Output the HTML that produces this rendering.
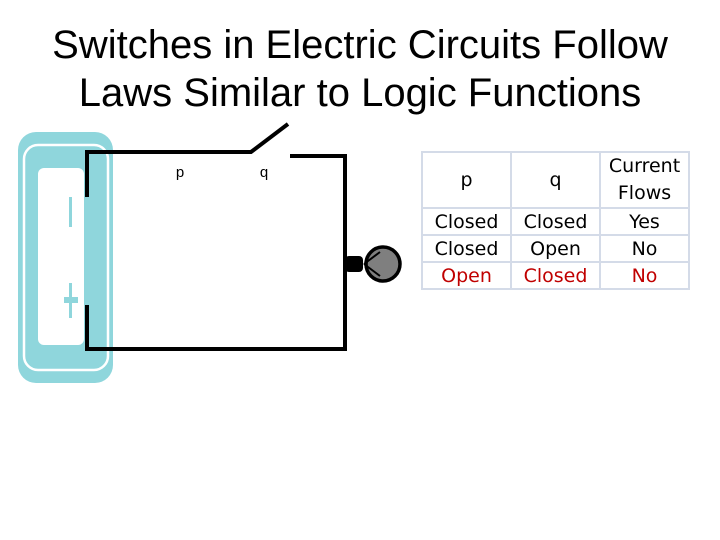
<!DOCTYPE html>
<html><head><style>
body{margin:0;width:720px;height:540px;background:#fff;position:relative;overflow:hidden;font-family:"Liberation Sans",sans-serif}
.t{position:absolute;left:0;width:720px;text-align:center;font-size:40px;line-height:48px;top:21px;color:#000}
table{position:absolute;left:421px;top:151px;border-collapse:collapse;font-size:19px;font-family:"DejaVu Sans","Liberation Sans",sans-serif}
td{border:2px solid #d4dbe8;width:87px;text-align:center;padding:0;height:25px}
.r td{color:#c00000}
</style></head><body>
<div class="t">Switches in Electric Circuits Follow<br>Laws Similar to Logic Functions</div>
<svg width="720" height="540" style="position:absolute;left:0;top:0">
<rect x="18" y="132" width="95" height="251" rx="18" fill="#8fd6dc"/>
<rect x="24" y="145" width="84" height="225" rx="14" fill="none" stroke="#fff" stroke-width="2.5"/>
<rect x="38" y="168" width="46" height="177" rx="6" fill="#fff"/>
<rect x="69" y="197" width="3" height="30" fill="#8fd6dc"/>
<rect x="69" y="283" width="3" height="35" fill="#8fd6dc"/>
<rect x="64" y="297" width="14" height="6" fill="#8fd6dc"/>
<g stroke="#000" stroke-width="4" fill="none">
<polyline points="87,197 87,152 251,152 288,124"/>
<polyline points="290,156 345,156 345,349 87,349 87,305"/>
</g>
<rect x="345" y="256" width="18" height="16" rx="4" fill="#000"/>
<circle cx="383" cy="264" r="17" fill="#7f7f7f" stroke="#000" stroke-width="3.5"/>
<path d="M364,264 L380,252 M364,264 L380,276" stroke="#000" stroke-width="2"/>
<text x="180" y="177" font-size="15" text-anchor="middle" font-family="Liberation Sans">p</text>
<text x="264" y="177" font-size="15" text-anchor="middle" font-family="Liberation Sans">q</text>
</svg>
<table>
<tr><td style="height:52px">p</td><td>q</td><td style="line-height:27px">Current<br>Flows</td></tr>
<tr><td>Closed</td><td>Closed</td><td>Yes</td></tr>
<tr><td>Closed</td><td>Open</td><td>No</td></tr>
<tr class="r"><td>Open</td><td>Closed</td><td>No</td></tr>
</table>
</body></html>
